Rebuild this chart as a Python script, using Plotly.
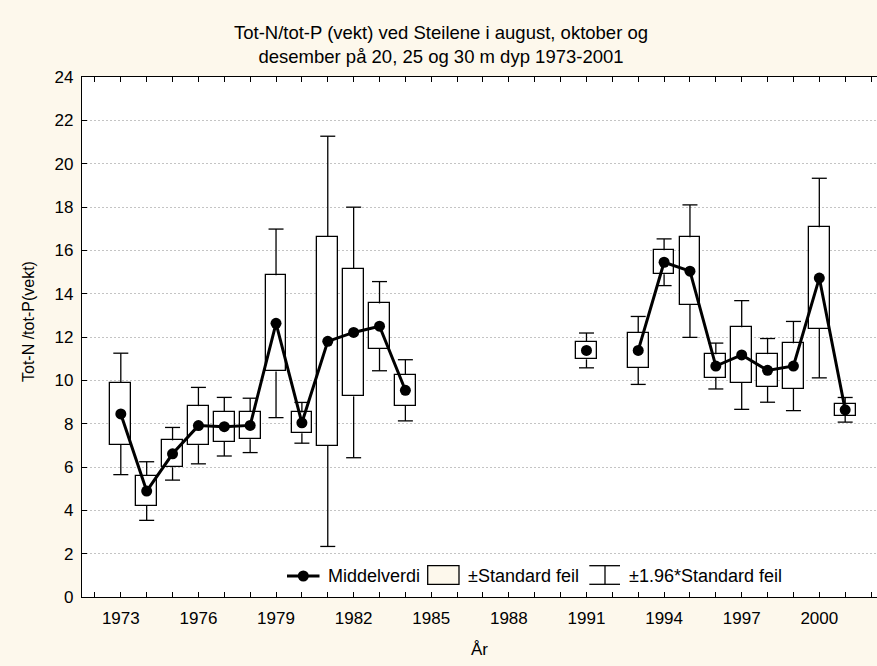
import plotly.graph_objects as go

# ---- data ----
years = list(range(1973, 2002))
means = [8.45, 4.89, 6.61, 7.91, 7.86, 7.92, 12.63, 8.04, 11.80, 12.21, 12.50, 9.54,
         None, None, None, None, None, None,
         11.38, None, 11.38, 15.45, 15.04, 10.66, 11.17, 10.46, 10.66, 14.72, 8.64]
std_err = [1.43, 0.69, 0.62, 0.90, 0.69, 0.64, 2.22, 0.48, 4.83, 2.95, 1.05, 0.72,
           None, None, None, None, None, None,
           0.41, None, 0.80, 0.55, 1.56, 0.54, 1.28, 0.75, 1.05, 2.35, 0.29]
tick_years = list(range(1972, 2003))
label_years = list(range(1973, 2001, 3))

title_text = "Tot-N/tot-P (vekt) ved Steilene i august, oktober og<br>desember på 20, 25 og 30 m dyp 1973-2001"
y_title = "Tot-N /tot-P(vekt)"
x_title = "År"
legend_labels = ["Middelverdi", "±Standard feil", "±1.96*Standard feil"]

# ---- styling ----
FONT = "Arial, Liberation Sans, sans-serif"
BG = "#FDF8EC"
BOX_W = 0.8
CAP_HW = 0.29
Z = 1.96

# ---- derived geometry from data ----
box_base = [m - s if m is not None else None for m, s in zip(means, std_err)]
box_h = [2 * s if s is not None else None for s in std_err]

wx, wy = [], []
for yr, m, s in zip(years, means, std_err):
    if m is None:
        continue
    for sign in (1, -1):
        edge = m + sign * s
        tip = m + sign * Z * s
        wx += [yr, yr, None, yr - CAP_HW, yr + CAP_HW, None]
        wy += [edge, tip, None, tip, tip, None]

fig = go.Figure()
fig.add_trace(go.Bar(
    x=years, y=box_h, base=box_base, width=BOX_W,
    marker=dict(color="white", line=dict(color="black", width=1.3)),
    showlegend=False, hoverinfo="skip"))
fig.add_trace(go.Scatter(
    x=wx, y=wy, mode="lines", line=dict(color="black", width=1.3),
    showlegend=False, hoverinfo="skip"))
fig.add_trace(go.Scatter(
    x=years, y=means, mode="lines+markers",
    line=dict(color="black", width=3),
    marker=dict(color="black", size=11),
    connectgaps=False, showlegend=False))

ticktext = [str(y) if y in label_years else "" for y in tick_years]

L, T, B, W, H = 82, 77, 69, 877, 666
PW = W - L
PH = H - T - B


def px(xp):
    return (xp - L) / PW


def py(yp):
    return (H - B - yp) / PH


# manual legend
shapes = []
ly = 576
shapes.append(dict(type="line", xref="paper", yref="paper", x0=px(287), x1=px(319.5),
                   y0=py(ly), y1=py(ly), line=dict(color="black", width=3)))
shapes.append(dict(type="circle", xref="paper", yref="paper", x0=px(303.3 - 5.5), x1=px(303.3 + 5.5),
                   y0=py(ly + 5.5), y1=py(ly - 5.5), fillcolor="black", line=dict(color="black", width=0)))
shapes.append(dict(type="rect", xref="paper", yref="paper", x0=px(427.7), x1=px(459),
                   y0=py(584.3), y1=py(565.7), fillcolor=BG, line=dict(color="black", width=1.3)))
for (xa, ya, xb, yb) in [(589.3, 565.7, 620, 565.7), (589.3, 584.3, 620, 584.3), (605, 565.7, 605, 584.3)]:
    shapes.append(dict(type="line", xref="paper", yref="paper", x0=px(xa), x1=px(xb),
                       y0=py(ya), y1=py(yb), line=dict(color="black", width=1.3)))

annotations = []
for txt, xl in zip(legend_labels, [326, 466, 627]):
    annotations.append(dict(text=txt, xref="paper", yref="paper", x=px(xl), y=py(ly),
                            xanchor="left", yanchor="middle", showarrow=False,
                            font=dict(family=FONT, size=18, color="black")))
annotations.append(dict(text=y_title, xref="paper", yref="paper", x=px(28), y=py(322),
                        xanchor="center", yanchor="middle", textangle=-90, showarrow=False,
                        font=dict(family=FONT, size=16, color="black")))

fig.update_layout(
    width=W, height=H,
    margin=dict(l=L, r=0, t=T, b=B, pad=0),
    paper_bgcolor=BG, plot_bgcolor="white",
    font=dict(family=FONT, size=17, color="black"),
    title=dict(text=title_text, x=441 / W, xanchor="center", y=1 - 38.5 / H, yanchor="middle",
               yref="container", font=dict(family=FONT, size=18.5, color="black")),
    shapes=shapes, annotations=annotations,
    barmode="overlay", bargap=0,
    xaxis=dict(range=[1971.5, 2002.23], tickvals=tick_years, ticktext=ticktext,
               ticks="inside", ticklen=5, tickwidth=1.3, tickcolor="black",
               showline=True, linecolor="black", linewidth=1.3, mirror="ticks",
               showgrid=False, zeroline=False, ticklabelstandoff=5,
               tickfont=dict(family=FONT, size=17),
               title=dict(text=x_title, font=dict(family=FONT, size=17), standoff=16)),
    yaxis=dict(range=[0, 24], dtick=2, tick0=0,
               ticks="inside", ticklen=5, tickwidth=1.3, tickcolor="black",
               showline=True, linecolor="black", linewidth=1.3,
               showgrid=True, gridcolor="#C4C4C4", griddash="2px,2px", gridwidth=1,
               zeroline=False, ticklabelstandoff=4, tickfont=dict(family=FONT, size=17)),
)

fig.write_html("out.html", config={"displayModeBar": False},
               post_script="document.body.style.margin='0';document.body.style.background='%s';" % BG)
